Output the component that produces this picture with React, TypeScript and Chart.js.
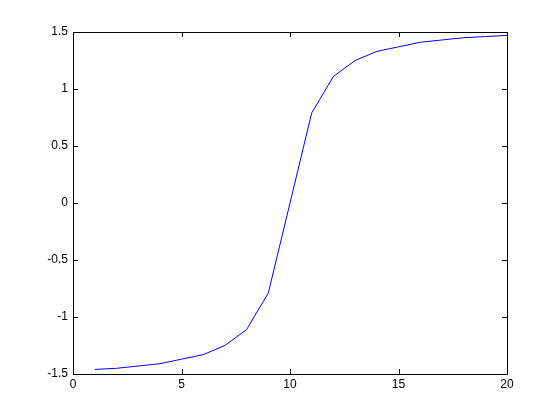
import React, { useEffect, useRef } from "react";
import { Chart, registerables } from "chart.js";

Chart.register(...registerables);

const xValues = [1, 2, 3, 4, 5, 6, 7, 8, 9, 10, 11, 12, 13, 14, 15, 16, 17, 18, 19, 20];
const yValues = [-1.46, -1.45, -1.43, -1.41, -1.37, -1.33, -1.25, -1.11, -0.79, 0, 0.79, 1.11, 1.25, 1.33, 1.37, 1.41, 1.43, 1.45, 1.46, 1.47];
const xTickValues = [0, 5, 10, 15, 20];
const yTickValues = [-1.5, -1, -0.5, 0, 0.5, 1, 1.5];

const boxTicksPlugin = {
  id: "boxTicks",
  afterDraw(chart: any) {
    const { ctx, chartArea } = chart;
    const { left, right, top, bottom } = chartArea;
    const xs = chart.scales.x;
    const ys = chart.scales.y;
    const len = 5;
    ctx.save();
    ctx.strokeStyle = "#000";
    ctx.lineWidth = 1;
    ctx.beginPath();
    ctx.rect(Math.round(left) + 0.5, Math.round(top) + 0.5, Math.round(right - left), Math.round(bottom - top));
    for (const v of xTickValues) {
      const px = Math.round(xs.getPixelForValue(v)) + 0.5;
      ctx.moveTo(px, bottom);
      ctx.lineTo(px, bottom - len);
      ctx.moveTo(px, top);
      ctx.lineTo(px, top + len);
    }
    for (const v of yTickValues) {
      const py = Math.round(ys.getPixelForValue(v)) + 0.5;
      ctx.moveTo(left, py);
      ctx.lineTo(left + len, py);
      ctx.moveTo(right, py);
      ctx.lineTo(right - len, py);
    }
    ctx.stroke();
    ctx.restore();
  },
};

export default function App() {
  const ref = useRef<HTMLCanvasElement | null>(null);
  useEffect(() => {
    if (!ref.current) return;
    const font = { family: "'Liberation Sans', Arial, sans-serif", size: 12 };
    const chart = new Chart(ref.current, {
      type: "line",
      data: {
        datasets: [
          {
            data: xValues.map((x, i) => ({ x, y: yValues[i] })),
            borderColor: "#0000ff",
            borderWidth: 1,
            pointRadius: 0,
            tension: 0,
            fill: false,
          },
        ],
      },
      options: {
        animation: false,
        responsive: false,
        maintainAspectRatio: false,
        layout: { padding: { left: 0, right: 53, top: 32, bottom: 0 } },
        plugins: { legend: { display: false }, tooltip: { enabled: false } },
        scales: {
          x: {
            type: "linear",
            min: 0,
            max: 20,
            afterBuildTicks: (s: any) => {
              s.ticks = xTickValues.map((v) => ({ value: v }));
            },
            afterFit: (s: any) => {
              s.height = 46;
            },
            grid: { display: false, drawTicks: false },
            border: { display: false },
            ticks: { color: "#000", font, padding: 3, maxRotation: 0, callback: (v: any) => String(v) },
          },
          y: {
            type: "linear",
            min: -1.5,
            max: 1.5,
            afterBuildTicks: (s: any) => {
              s.ticks = yTickValues.map((v) => ({ value: v }));
            },
            afterFit: (s: any) => {
              s.width = 73;
            },
            grid: { display: false, drawTicks: false },
            border: { display: false },
            ticks: { color: "#000", font, padding: 5, callback: (v: any) => String(v) },
          },
        },
      },
      plugins: [boxTicksPlugin],
    } as any);
    return () => chart.destroy();
  }, []);
  return (
    <div style={{ position: "fixed", left: 0, top: 0, width: 560, height: 420, background: "#fff" }}>
      <canvas ref={ref} width={560} height={420} style={{ display: "block" }} />
    </div>
  );
}
